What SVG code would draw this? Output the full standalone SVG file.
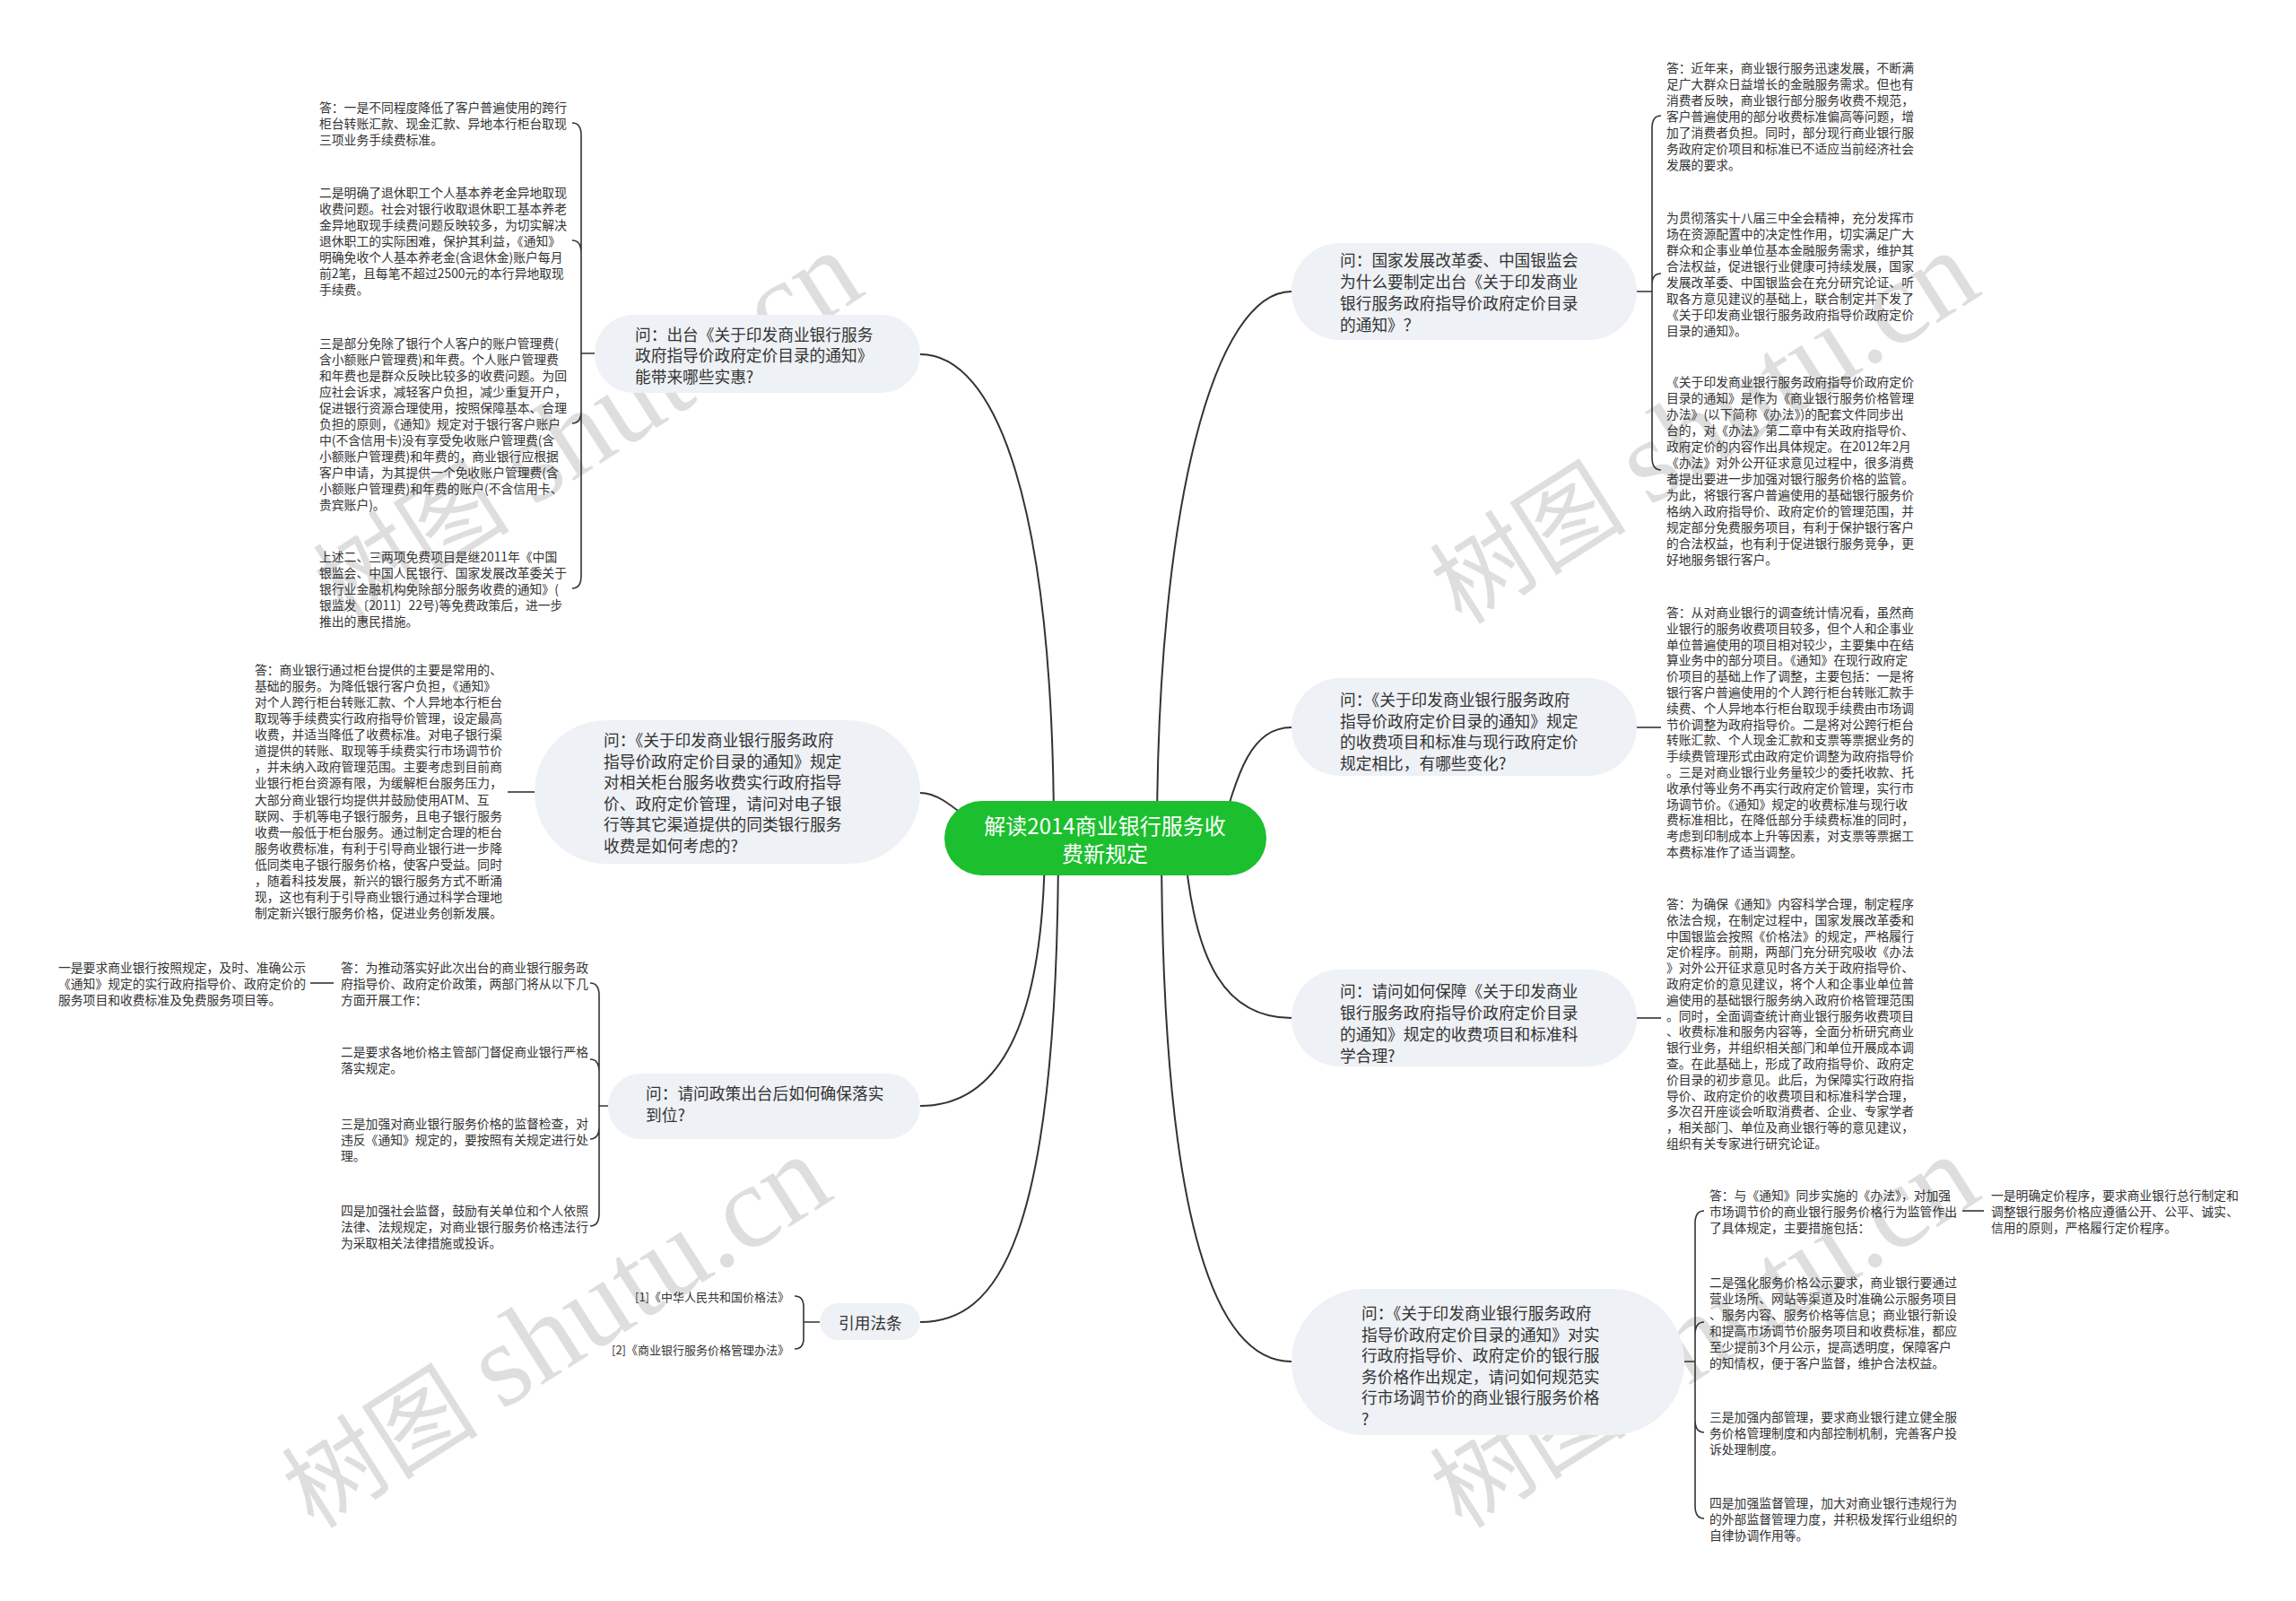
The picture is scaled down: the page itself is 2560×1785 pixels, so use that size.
<svg xmlns="http://www.w3.org/2000/svg" width="2560" height="1785" viewBox="0 0 2560 1785">
<style>
.a{font-family:"Noto Sans CJK SC","Noto Sans",sans-serif;font-size:13.8px;fill:#333;dominant-baseline:central}
.q{font-family:"Noto Sans CJK SC","Noto Sans",sans-serif;font-size:17.7px;fill:#333;dominant-baseline:central}
.r{font-family:"Noto Sans CJK SC","Noto Sans",sans-serif;font-size:24px;fill:#fff;dominant-baseline:central;text-anchor:middle}
.pill{fill:#eef1f5}
.ln{fill:none;stroke:#333;stroke-width:2}
.br{fill:none;stroke:#333;stroke-width:1.6}
.wm{font-family:"Liberation Serif","Noto Sans CJK SC",serif;font-size:110px;fill:#000;fill-opacity:0.13}
.wm tspan.en{font-size:132px}
</style>
<rect width="2560" height="1785" fill="#fff"/>
<g id="watermarks">
<text class="wm" transform="translate(385,698) rotate(-32.5)">树图 <tspan class="en">shutu.cn</tspan></text>
<text class="wm" transform="translate(1630,698) rotate(-32.5)">树图 <tspan class="en">shutu.cn</tspan></text>
<text class="wm" transform="translate(350,1706) rotate(-32.5)">树图 <tspan class="en">shutu.cn</tspan></text>
<text class="wm" transform="translate(1630,1706) rotate(-32.5)">树图 <tspan class="en">shutu.cn</tspan></text>
</g>
<g id="connectors">
<path class="ln" d="M1175,934 C1175,560 1110,395 1026,395"/>
<path class="ln" d="M1120,934 C1090,934 1060,884 1026,884"/>
<path class="ln" d="M1165,934 C1165,1150 1110,1233 1026,1233"/>
<path class="ln" d="M1180,934 C1180,1390 1110,1474 1026,1474"/>
<path class="ln" d="M1290,934 C1290,560 1355,325 1440,325"/>
<path class="ln" d="M1360,934 C1380,860 1395,811 1440,811"/>
<path class="ln" d="M1320,934 C1330,1080 1370,1135 1440,1135"/>
<path class="ln" d="M1295,934 C1295,1380 1360,1518 1440,1518"/>
<path class="br" d="M663,394 H648 M648,394 V151 Q648,137 638,137 M648,394 V282 Q648,268 638,268 M648,394 V458 Q648,472 638,472 M648,394 V642 Q648,656 638,656"/>
<path class="br" d="M596,883 H566"/>
<path class="br" d="M678,1233 H668 M668,1233 V1110 Q668,1096 658,1096 M668,1233 V1195 Q668,1181 658,1181 M668,1233 V1256 Q668,1270 658,1270 M668,1233 V1353 Q668,1367 658,1367"/>
<path class="br" d="M372,1096 H346"/>
<path class="br" d="M914,1474 H896 M896,1474 V1457 Q896,1445 886,1445 M896,1474 V1492 Q896,1504 886,1504"/>
<path class="br" d="M1825,325 H1842 M1842,325 V143 Q1842,129 1852,129 M1842,325 V317 Q1842,305 1852,305 M1842,325 V510 Q1842,524 1852,524"/>
<path class="br" d="M1825,811 H1852"/>
<path class="br" d="M1825,1135 H1852"/>
<path class="br" d="M1878,1518 H1890 M1890,1518 V1364 Q1890,1350 1900,1350 M1890,1518 V1488 Q1890,1474 1900,1474 M1890,1518 V1583 Q1890,1597 1900,1597 M1890,1518 V1679 Q1890,1693 1900,1693"/>
<path class="br" d="M2188,1350 H2212"/>
</g>
<g id="root">
<rect x="1053" y="893" width="359" height="83" rx="41.5" fill="#1cbf2e"/>
<text class="r" x="1232"><tspan x="1232" y="919">解读2014商业银行服务收</tspan><tspan x="1232" y="950">费新规定</tspan></text>
</g>
<g id="q-left-1">
<rect class="pill" x="663" y="351" width="363" height="87" rx="43.5"/>
<text class="q"><tspan x="708" y="372">问：出台《关于印发商业银行服务</tspan><tspan x="708" y="395">政府指导价政府定价目录的通知》</tspan><tspan x="708" y="419">能带来哪些实惠?</tspan></text>
</g>
<g id="a-left-1">
<text class="a"><tspan x="356" y="119">答：一是不同程度降低了客户普遍使用的跨行</tspan><tspan x="356" dy="18">柜台转账汇款、现金汇款、异地本行柜台取现</tspan><tspan x="356" dy="18">三项业务手续费标准。</tspan></text>
<text class="a"><tspan x="356" y="214">二是明确了退休职工个人基本养老金异地取现</tspan><tspan x="356" dy="18">收费问题。社会对银行收取退休职工基本养老</tspan><tspan x="356" dy="18">金异地取现手续费问题反映较多，为切实解决</tspan><tspan x="356" dy="18">退休职工的实际困难，保护其利益，《通知》</tspan><tspan x="356" dy="18">明确免收个人基本养老金(含退休金)账户每月</tspan><tspan x="356" dy="18">前2笔，且每笔不超过2500元的本行异地取现</tspan><tspan x="356" dy="18">手续费。</tspan></text>
<text class="a"><tspan x="356" y="382">三是部分免除了银行个人客户的账户管理费(</tspan><tspan x="356" dy="18">含小额账户管理费)和年费。个人账户管理费</tspan><tspan x="356" dy="18">和年费也是群众反映比较多的收费问题。为回</tspan><tspan x="356" dy="18">应社会诉求，减轻客户负担，减少重复开户，</tspan><tspan x="356" dy="18">促进银行资源合理使用，按照保障基本、合理</tspan><tspan x="356" dy="18">负担的原则，《通知》规定对于银行客户账户</tspan><tspan x="356" dy="18">中(不含信用卡)没有享受免收账户管理费(含</tspan><tspan x="356" dy="18">小额账户管理费)和年费的，商业银行应根据</tspan><tspan x="356" dy="18">客户申请，为其提供一个免收账户管理费(含</tspan><tspan x="356" dy="18">小额账户管理费)和年费的账户(不含信用卡、</tspan><tspan x="356" dy="18">贵宾账户)。</tspan></text>
<text class="a"><tspan x="356" y="620">上述二、三两项免费项目是继2011年《中国</tspan><tspan x="356" dy="18">银监会、中国人民银行、国家发展改革委关于</tspan><tspan x="356" dy="18">银行业金融机构免除部分服务收费的通知》(</tspan><tspan x="356" dy="18">银监发〔2011〕22号)等免费政策后，进一步</tspan><tspan x="356" dy="18">推出的惠民措施。</tspan></text>
</g>
<g id="q-left-2">
<rect class="pill" x="596" y="803" width="430" height="160" rx="80"/>
<text class="q"><tspan x="673" y="824">问：《关于印发商业银行服务政府</tspan><tspan x="673" dy="23.6">指导价政府定价目录的通知》规定</tspan><tspan x="673" dy="23.6">对相关柜台服务收费实行政府指导</tspan><tspan x="673" dy="23.6">价、政府定价管理，请问对电子银</tspan><tspan x="673" dy="23.6">行等其它渠道提供的同类银行服务</tspan><tspan x="673" dy="23.6">收费是如何考虑的?</tspan></text>
</g>
<g id="a-left-2">
<text class="a"><tspan x="284" y="746">答：商业银行通过柜台提供的主要是常用的、</tspan><tspan x="284" dy="18.07">基础的服务。为降低银行客户负担，《通知》</tspan><tspan x="284" dy="18.07">对个人跨行柜台转账汇款、个人异地本行柜台</tspan><tspan x="284" dy="18.07">取现等手续费实行政府指导价管理，设定最高</tspan><tspan x="284" dy="18.07">收费，并适当降低了收费标准。对电子银行渠</tspan><tspan x="284" dy="18.07">道提供的转账、取现等手续费实行市场调节价</tspan><tspan x="284" dy="18.07">，并未纳入政府管理范围。主要考虑到目前商</tspan><tspan x="284" dy="18.07">业银行柜台资源有限，为缓解柜台服务压力，</tspan><tspan x="284" dy="18.07">大部分商业银行均提供并鼓励使用ATM、互</tspan><tspan x="284" dy="18.07">联网、手机等电子银行服务，且电子银行服务</tspan><tspan x="284" dy="18.07">收费一般低于柜台服务。通过制定合理的柜台</tspan><tspan x="284" dy="18.07">服务收费标准，有利于引导商业银行进一步降</tspan><tspan x="284" dy="18.07">低同类电子银行服务价格，使客户受益。同时</tspan><tspan x="284" dy="18.07">，随着科技发展，新兴的银行服务方式不断涌</tspan><tspan x="284" dy="18.07">现，这也有利于引导商业银行通过科学合理地</tspan><tspan x="284" dy="18.07">制定新兴银行服务价格，促进业务创新发展。</tspan></text>
</g>
<g id="q-left-3">
<rect class="pill" x="678" y="1197" width="348" height="73" rx="36.5"/>
<text class="q"><tspan x="720" y="1218">问：请问政策出台后如何确保落实</tspan><tspan x="720" dy="23.6">到位?</tspan></text>
</g>
<g id="a-left-3">
<text class="a"><tspan x="380" y="1078">答：为推动落实好此次出台的商业银行服务政</tspan><tspan x="380" dy="18">府指导价、政府定价政策，两部门将从以下几</tspan><tspan x="380" dy="18">方面开展工作：</tspan></text>
<text class="a"><tspan x="380" y="1172">二是要求各地价格主管部门督促商业银行严格</tspan><tspan x="380" dy="18">落实规定。</tspan></text>
<text class="a"><tspan x="380" y="1252">三是加强对商业银行服务价格的监督检查，对</tspan><tspan x="380" dy="18">违反《通知》规定的，要按照有关规定进行处</tspan><tspan x="380" dy="18">理。</tspan></text>
<text class="a"><tspan x="380" y="1349">四是加强社会监督，鼓励有关单位和个人依照</tspan><tspan x="380" dy="18">法律、法规规定，对商业银行服务价格违法行</tspan><tspan x="380" dy="18">为采取相关法律措施或投诉。</tspan></text>
<text class="a"><tspan x="65" y="1078">一是要求商业银行按照规定，及时、准确公示</tspan><tspan x="65" dy="18">《通知》规定的实行政府指导价、政府定价的</tspan><tspan x="65" dy="18">服务项目和收费标准及免费服务项目等。</tspan></text>
</g>
<g id="q-left-4">
<rect class="pill" x="914" y="1453" width="112" height="41" rx="20.5"/>
<text class="q" x="935" y="1474">引用法条</text>
</g>
<g id="citations">
<text class="a" x="880" y="1445" text-anchor="end" style="font-size:13px">[1]《中华人民共和国价格法》</text>
<text class="a" x="880" y="1504" text-anchor="end" style="font-size:13px">[2]《商业银行服务价格管理办法》</text>
</g>
<g id="q-right-1">
<rect class="pill" x="1440" y="271" width="385" height="108" rx="54"/>
<text class="q"><tspan x="1494" y="289">问：国家发展改革委、中国银监会</tspan><tspan x="1494" dy="24">为什么要制定出台《关于印发商业</tspan><tspan x="1494" dy="24">银行服务政府指导价政府定价目录</tspan><tspan x="1494" dy="24">的通知》？</tspan></text>
</g>
<g id="a-right-1">
<text class="a"><tspan x="1858" y="75">答：近年来，商业银行服务迅速发展，不断满</tspan><tspan x="1858" dy="18">足广大群众日益增长的金融服务需求。但也有</tspan><tspan x="1858" dy="18">消费者反映，商业银行部分服务收费不规范，</tspan><tspan x="1858" dy="18">客户普遍使用的部分收费标准偏高等问题，增</tspan><tspan x="1858" dy="18">加了消费者负担。同时，部分现行商业银行服</tspan><tspan x="1858" dy="18">务政府定价项目和标准已不适应当前经济社会</tspan><tspan x="1858" dy="18">发展的要求。</tspan></text>
<text class="a"><tspan x="1858" y="242">为贯彻落实十八届三中全会精神，充分发挥市</tspan><tspan x="1858" dy="18">场在资源配置中的决定性作用，切实满足广大</tspan><tspan x="1858" dy="18">群众和企事业单位基本金融服务需求，维护其</tspan><tspan x="1858" dy="18">合法权益，促进银行业健康可持续发展，国家</tspan><tspan x="1858" dy="18">发展改革委、中国银监会在充分研究论证、听</tspan><tspan x="1858" dy="18">取各方意见建议的基础上，联合制定并下发了</tspan><tspan x="1858" dy="18">《关于印发商业银行服务政府指导价政府定价</tspan><tspan x="1858" dy="18">目录的通知》。</tspan></text>
<text class="a"><tspan x="1858" y="425">《关于印发商业银行服务政府指导价政府定价</tspan><tspan x="1858" dy="18">目录的通知》是作为《商业银行服务价格管理</tspan><tspan x="1858" dy="18">办法》(以下简称《办法》)的配套文件同步出</tspan><tspan x="1858" dy="18">台的，对《办法》第二章中有关政府指导价、</tspan><tspan x="1858" dy="18">政府定价的内容作出具体规定。在2012年2月</tspan><tspan x="1858" dy="18">《办法》对外公开征求意见过程中，很多消费</tspan><tspan x="1858" dy="18">者提出要进一步加强对银行服务价格的监管。</tspan><tspan x="1858" dy="18">为此，将银行客户普遍使用的基础银行服务价</tspan><tspan x="1858" dy="18">格纳入政府指导价、政府定价的管理范围，并</tspan><tspan x="1858" dy="18">规定部分免费服务项目，有利于保护银行客户</tspan><tspan x="1858" dy="18">的合法权益，也有利于促进银行服务竞争，更</tspan><tspan x="1858" dy="18">好地服务银行客户。</tspan></text>
</g>
<g id="q-right-2">
<rect class="pill" x="1440" y="756" width="385" height="109" rx="54.5"/>
<text class="q"><tspan x="1494" y="779">问：《关于印发商业银行服务政府</tspan><tspan x="1494" dy="23.5">指导价政府定价目录的通知》规定</tspan><tspan x="1494" dy="23.5">的收费项目和标准与现行政府定价</tspan><tspan x="1494" dy="23.5">规定相比，有哪些变化?</tspan></text>
</g>
<g id="a-right-2">
<text class="a"><tspan x="1858" y="682">答：从对商业银行的调查统计情况看，虽然商</tspan><tspan x="1858" dy="17.8">业银行的服务收费项目较多，但个人和企事业</tspan><tspan x="1858" dy="17.8">单位普遍使用的项目相对较少，主要集中在结</tspan><tspan x="1858" dy="17.8">算业务中的部分项目。《通知》在现行政府定</tspan><tspan x="1858" dy="17.8">价项目的基础上作了调整，主要包括：一是将</tspan><tspan x="1858" dy="17.8">银行客户普遍使用的个人跨行柜台转账汇款手</tspan><tspan x="1858" dy="17.8">续费、个人异地本行柜台取现手续费由市场调</tspan><tspan x="1858" dy="17.8">节价调整为政府指导价。二是将对公跨行柜台</tspan><tspan x="1858" dy="17.8">转账汇款、个人现金汇款和支票等票据业务的</tspan><tspan x="1858" dy="17.8">手续费管理形式由政府定价调整为政府指导价</tspan><tspan x="1858" dy="17.8">。三是对商业银行业务量较少的委托收款、托</tspan><tspan x="1858" dy="17.8">收承付等业务不再实行政府定价管理，实行市</tspan><tspan x="1858" dy="17.8">场调节价。《通知》规定的收费标准与现行收</tspan><tspan x="1858" dy="17.8">费标准相比，在降低部分手续费标准的同时，</tspan><tspan x="1858" dy="17.8">考虑到印制成本上升等因素，对支票等票据工</tspan><tspan x="1858" dy="17.8">本费标准作了适当调整。</tspan></text>
</g>
<g id="q-right-3">
<rect class="pill" x="1440" y="1081" width="385" height="108" rx="54"/>
<text class="q"><tspan x="1494" y="1104">问：请问如何保障《关于印发商业</tspan><tspan x="1494" dy="24">银行服务政府指导价政府定价目录</tspan><tspan x="1494" dy="24">的通知》规定的收费项目和标准科</tspan><tspan x="1494" dy="24">学合理?</tspan></text>
</g>
<g id="a-right-3">
<text class="a"><tspan x="1858" y="1007">答：为确保《通知》内容科学合理，制定程序</tspan><tspan x="1858" dy="17.8">依法合规，在制定过程中，国家发展改革委和</tspan><tspan x="1858" dy="17.8">中国银监会按照《价格法》的规定，严格履行</tspan><tspan x="1858" dy="17.8">定价程序。前期，两部门充分研究吸收《办法</tspan><tspan x="1858" dy="17.8">》对外公开征求意见时各方关于政府指导价、</tspan><tspan x="1858" dy="17.8">政府定价的意见建议，将个人和企事业单位普</tspan><tspan x="1858" dy="17.8">遍使用的基础银行服务纳入政府价格管理范围</tspan><tspan x="1858" dy="17.8">。同时，全面调查统计商业银行服务收费项目</tspan><tspan x="1858" dy="17.8">、收费标准和服务内容等，全面分析研究商业</tspan><tspan x="1858" dy="17.8">银行业务，并组织相关部门和单位开展成本调</tspan><tspan x="1858" dy="17.8">查。在此基础上，形成了政府指导价、政府定</tspan><tspan x="1858" dy="17.8">价目录的初步意见。此后，为保障实行政府指</tspan><tspan x="1858" dy="17.8">导价、政府定价的收费项目和标准科学合理，</tspan><tspan x="1858" dy="17.8">多次召开座谈会听取消费者、企业、专家学者</tspan><tspan x="1858" dy="17.8">，相关部门、单位及商业银行等的意见建议，</tspan><tspan x="1858" dy="17.8">组织有关专家进行研究论证。</tspan></text>
</g>
<g id="q-right-4">
<rect class="pill" x="1440" y="1437" width="438" height="163" rx="81.5"/>
<text class="q"><tspan x="1518" y="1463">问：《关于印发商业银行服务政府</tspan><tspan x="1518" dy="23.6">指导价政府定价目录的通知》对实</tspan><tspan x="1518" dy="23.6">行政府指导价、政府定价的银行服</tspan><tspan x="1518" dy="23.6">务价格作出规定，请问如何规范实</tspan><tspan x="1518" dy="23.6">行市场调节价的商业银行服务价格</tspan><tspan x="1518" dy="23.6">?</tspan></text>
</g>
<g id="a-right-4">
<text class="a"><tspan x="1906" y="1332">答：与《通知》同步实施的《办法》，对加强</tspan><tspan x="1906" dy="18">市场调节价的商业银行服务价格行为监管作出</tspan><tspan x="1906" dy="18">了具体规定，主要措施包括：</tspan></text>
<text class="a"><tspan x="1906" y="1429">二是强化服务价格公示要求，商业银行要通过</tspan><tspan x="1906" dy="18">营业场所、网站等渠道及时准确公示服务项目</tspan><tspan x="1906" dy="18">、服务内容、服务价格等信息；商业银行新设</tspan><tspan x="1906" dy="18">和提高市场调节价服务项目和收费标准，都应</tspan><tspan x="1906" dy="18">至少提前3个月公示，提高透明度，保障客户</tspan><tspan x="1906" dy="18">的知情权，便于客户监督，维护合法权益。</tspan></text>
<text class="a"><tspan x="1906" y="1579">三是加强内部管理，要求商业银行建立健全服</tspan><tspan x="1906" dy="18">务价格管理制度和内部控制机制，完善客户投</tspan><tspan x="1906" dy="18">诉处理制度。</tspan></text>
<text class="a"><tspan x="1906" y="1675">四是加强监督管理，加大对商业银行违规行为</tspan><tspan x="1906" dy="18">的外部监督管理力度，并积极发挥行业组织的</tspan><tspan x="1906" dy="18">自律协调作用等。</tspan></text>
<text class="a"><tspan x="2220" y="1332">一是明确定价程序，要求商业银行总行制定和</tspan><tspan x="2220" dy="18">调整银行服务价格应遵循公开、公平、诚实、</tspan><tspan x="2220" dy="18">信用的原则，严格履行定价程序。</tspan></text>
</g>
</svg>
